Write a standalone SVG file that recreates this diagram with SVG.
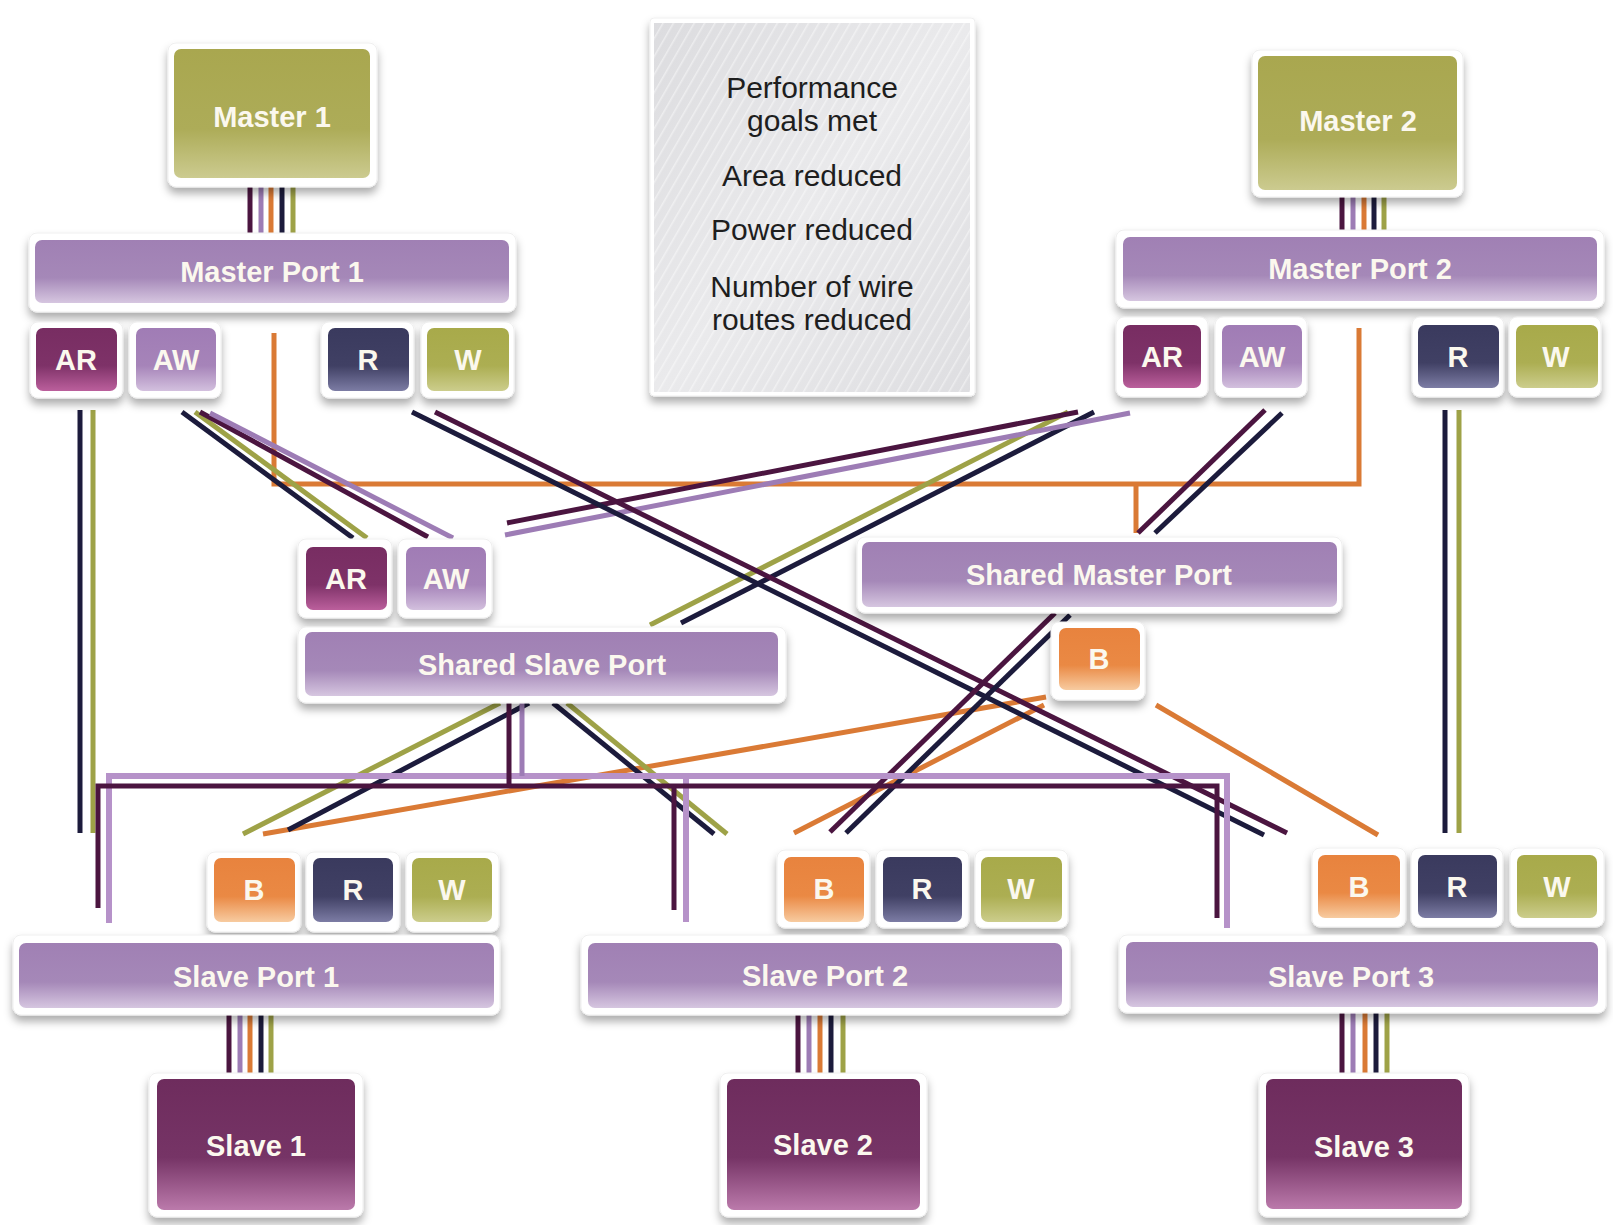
<svg xmlns="http://www.w3.org/2000/svg" width="1613" height="1225" viewBox="0 0 1613 1225">
  <defs>
    <filter id="sh" x="-20%" y="-20%" width="140%" height="150%">
      <feDropShadow dx="0" dy="6" stdDeviation="4.5" flood-color="#000" flood-opacity="0.32"/>
    </filter>
    <linearGradient id="gOlive" x1="0" y1="0" x2="0" y2="1">
      <stop offset="0" stop-color="#a9a74f"/><stop offset="0.62" stop-color="#adac58"/><stop offset="1" stop-color="#cccb90"/>
    </linearGradient>
    <linearGradient id="gPort" x1="0" y1="0" x2="0" y2="1">
      <stop offset="0" stop-color="#a080b4"/><stop offset="0.6" stop-color="#a588b8"/><stop offset="1" stop-color="#d6c6e0"/>
    </linearGradient>
    <linearGradient id="gAR" x1="0" y1="0" x2="0" y2="1">
      <stop offset="0" stop-color="#782d62"/><stop offset="0.6" stop-color="#7e3268"/><stop offset="1" stop-color="#bb5f9c"/>
    </linearGradient>
    <linearGradient id="gAW" x1="0" y1="0" x2="0" y2="1">
      <stop offset="0" stop-color="#a07cb5"/><stop offset="0.6" stop-color="#a684b9"/><stop offset="1" stop-color="#d3c0de"/>
    </linearGradient>
    <linearGradient id="gR" x1="0" y1="0" x2="0" y2="1">
      <stop offset="0" stop-color="#3a3a5e"/><stop offset="0.6" stop-color="#404064"/><stop offset="1" stop-color="#7c7ca4"/>
    </linearGradient>
    <linearGradient id="gW" x1="0" y1="0" x2="0" y2="1">
      <stop offset="0" stop-color="#a8aa4a"/><stop offset="0.6" stop-color="#acae52"/><stop offset="1" stop-color="#cccd8c"/>
    </linearGradient>
    <linearGradient id="gB" x1="0" y1="0" x2="0" y2="1">
      <stop offset="0" stop-color="#e8833e"/><stop offset="0.6" stop-color="#ea8944"/><stop offset="1" stop-color="#f7cba0"/>
    </linearGradient>
    <linearGradient id="gSlave" x1="0" y1="0" x2="0" y2="1">
      <stop offset="0" stop-color="#6e2c5d"/><stop offset="0.6" stop-color="#763466"/><stop offset="1" stop-color="#bb7aab"/>
    </linearGradient>
    <linearGradient id="gInfo" x1="0" y1="0" x2="1" y2="1">
      <stop offset="0" stop-color="#dcdcdf"/><stop offset="0.5" stop-color="#eaeaec"/><stop offset="1" stop-color="#dedee1"/>
    </linearGradient>
    <pattern id="hatch" width="9" height="9" patternUnits="userSpaceOnUse" patternTransform="rotate(30)">
      <line x1="0" y1="0" x2="0" y2="9" stroke="#ffffff" stroke-width="3" stroke-opacity="0.45"/>
    </pattern>
  </defs>
  <style>
    .frame { fill: #ffffff; stroke: #efefef; stroke-width: 1; filter: url(#sh); }
    .lbl { font-family: "Liberation Sans", Arial, sans-serif; font-weight: bold; font-size: 29px; fill: #fbf8ee; text-anchor: middle; }
    .info { font-family: "Liberation Sans", Arial, sans-serif; font-size: 30px; fill: #1e1e1e; text-anchor: middle; }
    .w { fill: none; stroke-width: 5; }
    .pl { stroke: #4b1540; }
    .lv { stroke: #9d7cb5; }
    .or { stroke: #da7a35; }
    .nv { stroke: #1c1b3c; }
    .ol { stroke: #9ea247; }
    .bus { stroke: #b692c9; stroke-width: 6; }
  </style>
  <rect width="1613" height="1225" fill="#ffffff"/>

  <!-- wiring between ports -->
  <g id="connectors">
    <!-- short bundles: master to master port, slave port to slave -->
    <g class="w">
      <line class="pl" x1="250" y1="186" x2="250" y2="235"/>
      <line class="lv" x1="261" y1="186" x2="261" y2="235"/>
      <line class="or" x1="271" y1="186" x2="271" y2="235"/>
      <line class="nv" x1="282" y1="186" x2="282" y2="235"/>
      <line class="ol" x1="293" y1="186" x2="293" y2="235"/>

      <line class="pl" x1="1342" y1="195" x2="1342" y2="232"/>
      <line class="lv" x1="1353" y1="195" x2="1353" y2="232"/>
      <line class="or" x1="1364" y1="195" x2="1364" y2="232"/>
      <line class="nv" x1="1374" y1="195" x2="1374" y2="232"/>
      <line class="ol" x1="1384" y1="195" x2="1384" y2="232"/>

      <line class="pl" x1="229" y1="1012" x2="229" y2="1075"/>
      <line class="lv" x1="240" y1="1012" x2="240" y2="1075"/>
      <line class="or" x1="250" y1="1012" x2="250" y2="1075"/>
      <line class="nv" x1="261" y1="1012" x2="261" y2="1075"/>
      <line class="ol" x1="271" y1="1012" x2="271" y2="1075"/>

      <line class="pl" x1="798" y1="1012" x2="798" y2="1075"/>
      <line class="lv" x1="809" y1="1012" x2="809" y2="1075"/>
      <line class="or" x1="820" y1="1012" x2="820" y2="1075"/>
      <line class="nv" x1="831" y1="1012" x2="831" y2="1075"/>
      <line class="ol" x1="843" y1="1012" x2="843" y2="1075"/>

      <line class="pl" x1="1342" y1="1012" x2="1342" y2="1075"/>
      <line class="lv" x1="1353" y1="1012" x2="1353" y2="1075"/>
      <line class="or" x1="1365" y1="1012" x2="1365" y2="1075"/>
      <line class="nv" x1="1376" y1="1012" x2="1376" y2="1075"/>
      <line class="ol" x1="1387" y1="1012" x2="1387" y2="1075"/>
    </g>

    <!-- B channel routing (orange) -->
    <g class="w or">
      <polyline points="274,333 274,484 1359,484 1359,328"/>
      <line x1="1136" y1="484" x2="1136" y2="533"/>
      <line x1="1046" y1="697" x2="263" y2="834"/>
      <line x1="1044" y1="705" x2="794" y2="833"/>
      <line x1="1156" y1="705" x2="1378" y2="835"/>
    </g>

    <!-- direct R/W runs at the outer edges -->
    <g class="w">
      <line class="nv" x1="80" y1="410" x2="80" y2="833"/>
      <line class="ol" x1="93" y1="410" x2="93" y2="833"/>
      <line class="nv" x1="1445" y1="410" x2="1445" y2="833"/>
      <line class="ol" x1="1459" y1="410" x2="1459" y2="833"/>
    </g>

    <!-- master port 1 to shared slave port -->
    <g class="w">
      <line class="ol" x1="195" y1="412" x2="367" y2="538"/>
      <line class="nv" x1="182" y1="412" x2="353" y2="538"/>
      <line class="pl" x1="200" y1="412" x2="428" y2="537"/>
      <line class="lv" x1="210" y1="413" x2="453" y2="538"/>
    </g>

    <!-- master port 2 to shared slave port -->
    <g class="w">
      <line class="ol" x1="1068" y1="412" x2="650" y2="625"/>
      <line class="nv" x1="1094" y1="412" x2="681" y2="623"/>
      <line class="pl" x1="1078" y1="412" x2="507" y2="523"/>
      <line class="lv" x1="1130" y1="413" x2="505" y2="535"/>
    </g>

    <!-- master port 1 R to slave port 3 -->
    <g class="w">
      <line class="nv" x1="412" y1="412" x2="1264" y2="835"/>
      <line class="pl" x1="435" y1="412" x2="1287" y2="833"/>
    </g>

    <!-- master port 2 AW to shared master port -->
    <g class="w">
      <line class="pl" x1="1265" y1="410" x2="1138" y2="533"/>
      <line class="nv" x1="1282" y1="413" x2="1155" y2="533"/>
    </g>

    <!-- shared master port to slave port 2 -->
    <g class="w">
      <line class="pl" x1="1055" y1="613" x2="830" y2="832"/>
      <line class="nv" x1="1070" y1="615" x2="846" y2="833"/>
    </g>

    <!-- shared slave port R/W fan-out -->
    <g class="w">
      <line class="ol" x1="500" y1="703" x2="243" y2="834"/>
      <line class="nv" x1="529" y1="703" x2="288" y2="830"/>
      <line class="nv" x1="553" y1="703" x2="714" y2="834"/>
      <line class="ol" x1="567" y1="703" x2="727" y2="834"/>
    </g>

    <!-- shared slave port address buses -->
    <g class="w">
      <polyline class="bus" points="109,923 109,776 1227,776 1227,928"/>
      <line class="bus" x1="686" y1="776" x2="686" y2="922"/>
      <line class="lv" x1="522" y1="703" x2="522" y2="776"/>
      <polyline class="pl" points="98,908 98,786 1217,786 1217,918"/>
      <line class="pl" x1="674" y1="786" x2="674" y2="910"/>
      <line class="pl" x1="509" y1="703" x2="509" y2="786"/>
    </g>
  </g>

  <!-- masters -->
  <g id="master1">
    <rect class="frame" x="168" y="43" width="209" height="144" rx="8"/>
    <rect x="174" y="49" width="196" height="129" rx="7" fill="url(#gOlive)"/>
    <text class="lbl" x="272" y="127">Master 1</text>
  </g>
  <g id="master2">
    <rect class="frame" x="1252" y="50" width="211" height="147" rx="8"/>
    <rect x="1258" y="56" width="199" height="134" rx="7" fill="url(#gOlive)"/>
    <text class="lbl" x="1358" y="131">Master 2</text>
  </g>

  <!-- master ports -->
  <g id="master-port-1">
    <rect class="frame" x="29" y="233" width="487" height="79" rx="8"/>
    <rect x="35" y="240" width="474" height="63" rx="7" fill="url(#gPort)"/>
    <text class="lbl" x="272" y="282">Master Port 1</text>
  </g>
  <g id="mp1-ar">
    <rect class="frame" x="30" y="322" width="93" height="76" rx="8"/>
    <rect x="36" y="328" width="81" height="63" rx="7" fill="url(#gAR)"/>
    <text class="lbl" x="76" y="370">AR</text>
  </g>
  <g id="mp1-aw">
    <rect class="frame" x="129" y="322" width="92" height="76" rx="8"/>
    <rect x="136" y="328" width="80" height="63" rx="7" fill="url(#gAW)"/>
    <text class="lbl" x="176" y="370">AW</text>
  </g>
  <g id="mp1-r">
    <rect class="frame" x="321" y="322" width="93" height="76" rx="8"/>
    <rect x="328" y="328" width="81" height="63" rx="7" fill="url(#gR)"/>
    <text class="lbl" x="368" y="370">R</text>
  </g>
  <g id="mp1-w">
    <rect class="frame" x="421" y="322" width="93" height="76" rx="8"/>
    <rect x="427" y="328" width="82" height="63" rx="7" fill="url(#gW)"/>
    <text class="lbl" x="468" y="370">W</text>
  </g>

  <g id="master-port-2">
    <rect class="frame" x="1116" y="230" width="488" height="78" rx="8"/>
    <rect x="1123" y="237" width="474" height="64" rx="7" fill="url(#gPort)"/>
    <text class="lbl" x="1360" y="279">Master Port 2</text>
  </g>
  <g id="mp2-ar">
    <rect class="frame" x="1116" y="317" width="92" height="80" rx="8"/>
    <rect x="1123" y="325" width="78" height="63" rx="7" fill="url(#gAR)"/>
    <text class="lbl" x="1162" y="367">AR</text>
  </g>
  <g id="mp2-aw">
    <rect class="frame" x="1215" y="317" width="92" height="80" rx="8"/>
    <rect x="1222" y="325" width="80" height="63" rx="7" fill="url(#gAW)"/>
    <text class="lbl" x="1262" y="367">AW</text>
  </g>
  <g id="mp2-r">
    <rect class="frame" x="1412" y="317" width="92" height="80" rx="8"/>
    <rect x="1418" y="325" width="81" height="63" rx="7" fill="url(#gR)"/>
    <text class="lbl" x="1458" y="367">R</text>
  </g>
  <g id="mp2-w">
    <rect class="frame" x="1509" y="317" width="92" height="80" rx="8"/>
    <rect x="1516" y="325" width="82" height="63" rx="7" fill="url(#gW)"/>
    <text class="lbl" x="1556" y="367">W</text>
  </g>

  <!-- summary panel -->
  <g id="summary">
    <rect class="frame" x="650" y="18" width="325" height="378" rx="4"/>
    <rect x="654" y="23" width="316" height="369" fill="url(#gInfo)"/>
    <rect x="654" y="23" width="316" height="369" fill="url(#hatch)"/>
    <text class="info" x="812" y="98">Performance</text>
    <text class="info" x="812" y="131">goals met</text>
    <text class="info" x="812" y="186">Area reduced</text>
    <text class="info" x="812" y="240">Power reduced</text>
    <text class="info" x="812" y="297">Number of wire</text>
    <text class="info" x="812" y="330">routes reduced</text>
  </g>

  <!-- shared slave port -->
  <g id="ssp-ar">
    <rect class="frame" x="298" y="539" width="94" height="79" rx="8"/>
    <rect x="306" y="547" width="81" height="63" rx="7" fill="url(#gAR)"/>
    <text class="lbl" x="346" y="589">AR</text>
  </g>
  <g id="ssp-aw">
    <rect class="frame" x="398" y="539" width="94" height="79" rx="8"/>
    <rect x="406" y="547" width="80" height="63" rx="7" fill="url(#gAW)"/>
    <text class="lbl" x="446" y="589">AW</text>
  </g>
  <g id="shared-slave-port">
    <rect class="frame" x="298" y="627" width="488" height="76" rx="8"/>
    <rect x="305" y="632" width="473" height="64" rx="7" fill="url(#gPort)"/>
    <text class="lbl" x="542" y="675">Shared Slave Port</text>
  </g>

  <!-- shared master port -->
  <g id="shared-master-port">
    <rect class="frame" x="857" y="537" width="485" height="76" rx="8"/>
    <rect x="862" y="542" width="475" height="65" rx="7" fill="url(#gPort)"/>
    <text class="lbl" x="1099" y="585">Shared Master Port</text>
  </g>
  <g id="smp-b">
    <rect class="frame" x="1051" y="622" width="94" height="78" rx="8"/>
    <rect x="1059" y="628" width="81" height="62" rx="7" fill="url(#gB)"/>
    <text class="lbl" x="1099" y="669">B</text>
  </g>

  <!-- slave port 1 -->
  <g id="sp1-b">
    <rect class="frame" x="207" y="852" width="94" height="80" rx="8"/>
    <rect x="214" y="858" width="81" height="64" rx="7" fill="url(#gB)"/>
    <text class="lbl" x="254" y="900">B</text>
  </g>
  <g id="sp1-r">
    <rect class="frame" x="306" y="852" width="94" height="80" rx="8"/>
    <rect x="313" y="858" width="80" height="64" rx="7" fill="url(#gR)"/>
    <text class="lbl" x="353" y="900">R</text>
  </g>
  <g id="sp1-w">
    <rect class="frame" x="406" y="852" width="93" height="80" rx="8"/>
    <rect x="412" y="858" width="80" height="64" rx="7" fill="url(#gW)"/>
    <text class="lbl" x="452" y="900">W</text>
  </g>
  <g id="slave-port-1">
    <rect class="frame" x="13" y="935" width="487" height="80" rx="8"/>
    <rect x="19" y="943" width="475" height="65" rx="7" fill="url(#gPort)"/>
    <text class="lbl" x="256" y="987">Slave Port 1</text>
  </g>
  <g id="slave1">
    <rect class="frame" x="149" y="1073" width="214" height="144" rx="8"/>
    <rect x="157" y="1079" width="198" height="131" rx="7" fill="url(#gSlave)"/>
    <text class="lbl" x="256" y="1156">Slave 1</text>
  </g>

  <!-- slave port 2 -->
  <g id="sp2-b">
    <rect class="frame" x="777" y="850" width="93" height="78" rx="8"/>
    <rect x="784" y="857" width="80" height="65" rx="7" fill="url(#gB)"/>
    <text class="lbl" x="824" y="899">B</text>
  </g>
  <g id="sp2-r">
    <rect class="frame" x="876" y="850" width="93" height="78" rx="8"/>
    <rect x="883" y="857" width="79" height="65" rx="7" fill="url(#gR)"/>
    <text class="lbl" x="922" y="899">R</text>
  </g>
  <g id="sp2-w">
    <rect class="frame" x="975" y="850" width="93" height="78" rx="8"/>
    <rect x="981" y="857" width="81" height="65" rx="7" fill="url(#gW)"/>
    <text class="lbl" x="1021" y="899">W</text>
  </g>
  <g id="slave-port-2">
    <rect class="frame" x="581" y="935" width="489" height="80" rx="8"/>
    <rect x="588" y="943" width="474" height="65" rx="7" fill="url(#gPort)"/>
    <text class="lbl" x="825" y="986">Slave Port 2</text>
  </g>
  <g id="slave2">
    <rect class="frame" x="720" y="1073" width="207" height="144" rx="8"/>
    <rect x="727" y="1079" width="193" height="131" rx="7" fill="url(#gSlave)"/>
    <text class="lbl" x="823" y="1155">Slave 2</text>
  </g>

  <!-- slave port 3 -->
  <g id="sp3-b">
    <rect class="frame" x="1312" y="848" width="94" height="79" rx="8"/>
    <rect x="1318" y="855" width="82" height="63" rx="7" fill="url(#gB)"/>
    <text class="lbl" x="1359" y="897">B</text>
  </g>
  <g id="sp3-r">
    <rect class="frame" x="1411" y="848" width="92" height="79" rx="8"/>
    <rect x="1418" y="855" width="79" height="63" rx="7" fill="url(#gR)"/>
    <text class="lbl" x="1457" y="897">R</text>
  </g>
  <g id="sp3-w">
    <rect class="frame" x="1510" y="848" width="94" height="79" rx="8"/>
    <rect x="1517" y="855" width="80" height="63" rx="7" fill="url(#gW)"/>
    <text class="lbl" x="1557" y="897">W</text>
  </g>
  <g id="slave-port-3">
    <rect class="frame" x="1119" y="935" width="487" height="78" rx="8"/>
    <rect x="1126" y="942" width="472" height="65" rx="7" fill="url(#gPort)"/>
    <text class="lbl" x="1351" y="987">Slave Port 3</text>
  </g>
  <g id="slave3">
    <rect class="frame" x="1259" y="1073" width="210" height="144" rx="8"/>
    <rect x="1266" y="1079" width="196" height="130" rx="7" fill="url(#gSlave)"/>
    <text class="lbl" x="1364" y="1157">Slave 3</text>
  </g>
</svg>
